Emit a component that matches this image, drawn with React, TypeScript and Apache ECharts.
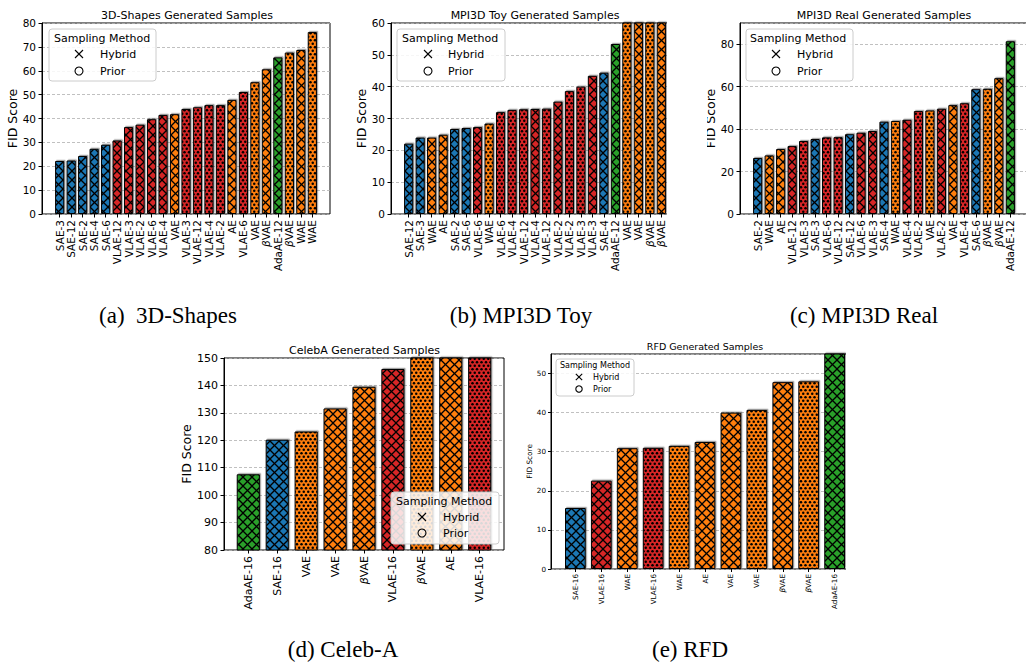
import React, { useEffect, useRef } from 'react';
import * as echarts from 'echarts';

// ---------- data ----------
// H = Hybrid sampling (cross hatch), P = Prior sampling (dot hatch)
const shapesLabels = ['SAE-3', 'SAE-12', 'SAE-2', 'SAE-4', 'SAE-6', 'VLAE-12', 'VLAE-3', 'VLAE-2', 'VLAE-6', 'VLAE-4', 'VAE', 'VLAE-3', 'VLAE-12', 'VLAE-4', 'VLAE-2', 'AE', 'VLAE-6', 'VAE', 'βVAE', 'AdaAE-12', 'βVAE', 'WAE', 'WAE'];
const shapesValues = [22.2, 22.4, 24.3, 27.3, 29.0, 30.8, 36.4, 37.4, 39.7, 41.5, 41.8, 44.0, 44.7, 45.6, 45.6, 47.8, 51.1, 55.2, 60.6, 65.6, 67.6, 68.7, 76.2];
const shapesMethods = ['H', 'H', 'H', 'H', 'H', 'H', 'H', 'H', 'H', 'H', 'H', 'P', 'P', 'P', 'P', 'H', 'P', 'P', 'H', 'H', 'P', 'H', 'P'];

const toyLabels = ['SAE-12', 'SAE-3', 'WAE', 'AE', 'SAE-2', 'SAE-6', 'VLAE-6', 'WAE', 'VLAE-6', 'VLAE-4', 'VLAE-12', 'VLAE-4', 'VLAE-12', 'VLAE-2', 'VLAE-2', 'VLAE-3', 'VLAE-3', 'SAE-4', 'AdaAE-12', 'VAE', 'VAE', 'βVAE', 'βVAE'];
const toyValues = [22.1, 24.0, 24.0, 24.9, 26.7, 27.0, 27.3, 28.4, 32.0, 32.7, 32.9, 33.0, 33.1, 35.3, 38.6, 40.0, 43.4, 44.4, 53.4, 66, 70, 75, 80];
const toyMethods = ['H', 'H', 'H', 'H', 'H', 'H', 'H', 'P', 'P', 'P', 'P', 'H', 'P', 'H', 'P', 'P', 'H', 'H', 'H', 'P', 'H', 'P', 'H'];

const realLabels = ['SAE-2', 'WAE', 'AE', 'VLAE-12', 'VLAE-3', 'SAE-3', 'VLAE-6', 'VLAE-12', 'SAE-12', 'VLAE-6', 'VLAE-3', 'SAE-4', 'WAE', 'VLAE-4', 'VLAE-2', 'VAE', 'VLAE-2', 'VAE', 'VLAE-4', 'SAE-6', 'βVAE', 'βVAE', 'AdaAE-12'];
const realValues = [26.4, 27.6, 30.6, 32.0, 34.4, 35.3, 36.1, 36.2, 37.6, 38.3, 39.1, 43.5, 43.8, 44.4, 48.5, 48.8, 49.6, 51.3, 52.2, 58.8, 59.0, 64.0, 81.4];
const realMethods = ['H', 'H', 'H', 'H', 'P', 'H', 'P', 'P', 'H', 'H', 'H', 'H', 'P', 'H', 'P', 'P', 'H', 'H', 'P', 'H', 'P', 'H', 'H'];

const celebLabels = ['AdaAE-16', 'SAE-16', 'VAE', 'VAE', 'βVAE', 'VLAE-16', 'βVAE', 'AE', 'VLAE-16'];
const celebValues = [107.6, 120.2, 123.2, 131.6, 139.5, 146.0, 158, 165, 172];
const celebMethods = ['H', 'H', 'P', 'H', 'H', 'H', 'P', 'H', 'P'];

const rfdLabels = ['SAE-16', 'VLAE-16', 'WAE', 'VLAE-16', 'WAE', 'AE', 'VAE', 'VAE', 'βVAE', 'βVAE', 'AdaAE-16'];
const rfdValues = [15.6, 22.6, 30.9, 31.0, 31.5, 32.5, 40.0, 40.7, 47.8, 48.0, 60];
const rfdMethods = ['H', 'H', 'H', 'P', 'P', 'H', 'H', 'P', 'H', 'P', 'H'];

const BLUE = '#1f77b4';
const ORANGE = '#ff7f0e';
const GREEN = '#2ca02c';
const RED = '#d62728';
const FONT = 'DejaVu Sans';
const SERIF = 'Liberation Serif';

function familyColor(label: string): string {
  if (label.startsWith('SAE')) return BLUE;
  if (label.startsWith('VLAE')) return RED;
  if (label.startsWith('AdaAE')) return GREEN;
  return ORANGE;
}

const patternCache: Record<string, any> = {};
function hatchPattern(color: string, method: string) {
  const key = color + method;
  if (patternCache[key]) return patternCache[key];
  const c = document.createElement('canvas');
  const g = c.getContext('2d')!;
  let res: any;
  if (method === 'H') {
    const T = 9;
    c.width = T; c.height = T;
    g.fillStyle = color; g.fillRect(0, 0, T, T);
    g.strokeStyle = '#000'; g.lineWidth = 1.3;
    for (const dx of [-T, 0, T]) {
      g.beginPath(); g.moveTo(dx, 0); g.lineTo(dx + T, T); g.stroke();
      g.beginPath(); g.moveTo(dx, T); g.lineTo(dx + T, 0); g.stroke();
    }
    res = { image: c.toDataURL(), repeat: 'repeat', imageWidth: T, imageHeight: T };
  } else {
    const W = 9, H = 7;
    c.width = W; c.height = H;
    g.fillStyle = color; g.fillRect(0, 0, W, H);
    g.fillStyle = '#000';
    const dots = [[2.25, 1.75], [6.75, 1.75], [0, 5.25], [4.5, 5.25], [9, 5.25]];
    for (const [x, y] of dots) {
      g.beginPath(); g.arc(x, y, 1.25, 0, Math.PI * 2); g.fill();
    }
    res = { image: c.toDataURL(), repeat: 'repeat', imageWidth: W, imageHeight: H };
  }
  patternCache[key] = res;
  return res;
}

type Panel = {
  labels: string[]; values: number[]; methods: string[];
  left: number; top: number; width: number; height: number;
  min: number; max: number; interval: number; showMax: boolean;
  tick: number; nameSize: number; nameGap: number; margin: number; tickLen: number;
};

const panels: Panel[] = [
  { labels: shapesLabels, values: shapesValues, methods: shapesMethods, left: 42, top: 23, width: 288, height: 191, min: 0, max: 80, interval: 10, showMax: true, tick: 10.5, nameSize: 12.5, nameGap: 23, margin: 6, tickLen: 3.5 },
  { labels: toyLabels, values: toyValues, methods: toyMethods, left: 391, top: 23, width: 288, height: 191, min: 0, max: 60, interval: 10, showMax: true, tick: 10.5, nameSize: 12.5, nameGap: 23, margin: 6, tickLen: 3.5 },
  { labels: realLabels, values: realValues, methods: realMethods, left: 740, top: 23, width: 288, height: 191, min: 0, max: 90, interval: 20, showMax: false, tick: 10.5, nameSize: 12.5, nameGap: 23, margin: 6, tickLen: 3.5 },
  { labels: celebLabels, values: celebValues, methods: celebMethods, left: 224, top: 358, width: 280, height: 192, min: 80, max: 150, interval: 10, showMax: true, tick: 11, nameSize: 12.5, nameGap: 30, margin: 6, tickLen: 3.5 },
  { labels: rfdLabels, values: rfdValues, methods: rfdMethods, left: 551, top: 354, width: 308, height: 215, min: 0, max: 55, interval: 10, showMax: false, tick: 7.2, nameSize: 7.3, nameGap: 17, margin: 5, tickLen: 3 },
];

const legends = [
  { x: 49, y: 29, w: 107, h: 52, tx: 54, ty: 38, mx: 79, lx: 100, y1: 54, y2: 71, fs: 11, ms: 4 },
  { x: 397, y: 29, w: 108, h: 52, tx: 402, ty: 38, mx: 428, lx: 448, y1: 54, y2: 71, fs: 11, ms: 4 },
  { x: 746, y: 29, w: 107, h: 52, tx: 750, ty: 38, mx: 776, lx: 797, y1: 54, y2: 71, fs: 11, ms: 4 },
  { x: 391, y: 492, w: 108, h: 52, tx: 396, ty: 501, mx: 422, lx: 443, y1: 517, y2: 533, fs: 11, ms: 4 },
  { x: 556, y: 359, w: 78, h: 37, tx: 560, ty: 365, mx: 579, lx: 593, y1: 377, y2: 389, fs: 8, ms: 3.2 },
];

const titles = [
  { text: '3D-Shapes Generated Samples', x: 187, y: 15, fs: 11 },
  { text: 'MPI3D Toy Generated Samples', x: 535, y: 15, fs: 11 },
  { text: 'MPI3D Real Generated Samples', x: 884, y: 15, fs: 11 },
  { text: 'CelebA Generated Samples', x: 364.5, y: 350, fs: 11 },
  { text: 'RFD Generated Samples', x: 705, y: 346, fs: 9.5 },
];

const captions = [
  { text: '(a)  3D-Shapes', x: 168, y: 315 },
  { text: '(b) MPI3D Toy', x: 521, y: 315 },
  { text: '(c) MPI3D Real', x: 864, y: 315 },
  { text: '(d) Celeb-A', x: 343, y: 649 },
  { text: '(e) RFD', x: 690, y: 649 },
];

function buildOption() {
  const grid: any[] = [];
  const xAxis: any[] = [];
  const yAxis: any[] = [];
  const series: any[] = [];
  panels.forEach((p, i) => {
    const n = p.labels.length;
    const U = (n - 0.2) * 1.1;
    const ppu = p.width / U;
    const off = (0.05 * (n - 0.2) - 0.1) * ppu;
    grid.push({ left: p.left, top: p.top, width: p.width, height: p.height, show: true, borderColor: '#000', borderWidth: 1, backgroundColor: 'transparent', containLabel: false, outerBoundsMode: 'none' });
    grid.push({ left: p.left + off, top: p.top, width: n * ppu, height: p.height, containLabel: false, outerBoundsMode: 'none' });
    xAxis.push({ type: 'value', gridIndex: 2 * i, min: 0, max: 1, show: false });
    xAxis.push({
      type: 'category', gridIndex: 2 * i + 1, data: p.labels, boundaryGap: true,
      axisLine: { show: false },
      axisTick: { show: true, alignWithLabel: true, interval: 0, length: p.tickLen, lineStyle: { color: '#000', width: 1 } },
      axisLabel: {
        rotate: 90, interval: 0, margin: p.margin, fontSize: p.tick, color: '#000', fontFamily: FONT,
        formatter: (v: string) => (v.startsWith('β') ? '{b|β}' + v.slice(1) : v),
        rich: { b: { fontStyle: 'italic', fontSize: p.tick, fontFamily: FONT, color: '#000' } },
      },
      splitLine: { show: false },
    });
    yAxis.push({
      type: 'value', gridIndex: 2 * i, min: p.min, max: p.max, interval: p.interval,
      axisLine: { show: true, lineStyle: { color: '#000', width: 1 } },
      axisTick: { show: true, length: p.tickLen, lineStyle: { color: '#000', width: 1 } },
      axisLabel: { fontSize: p.tick, color: '#000', fontFamily: FONT, margin: p.margin, showMaxLabel: p.showMax },
      splitLine: { show: true, lineStyle: { type: [3, 2], color: '#b0b0b0', width: 0.8 } },
      name: 'FID Score', nameLocation: 'middle', nameGap: p.nameGap,
      nameTextStyle: { fontSize: p.nameSize, color: '#000', fontFamily: FONT },
    });
    yAxis.push({ type: 'value', gridIndex: 2 * i + 1, min: p.min, max: p.max, show: false });
    series.push({
      type: 'bar', xAxisIndex: 2 * i + 1, yAxisIndex: 2 * i + 1, barWidth: '80%', clip: true, silent: true,
      itemStyle: { borderColor: '#000', borderWidth: 1, shadowColor: 'rgba(0,0,0,0.35)', shadowOffsetX: 1.2, shadowOffsetY: -1.2, shadowBlur: 0 },
      data: p.values.map((v, j) => ({ value: v, itemStyle: { color: hatchPattern(familyColor(p.labels[j]), p.methods[j]) } })),
    });
  });

  const graphic: any[] = [];
  // crop masks (the source figure panels are trimmed at these edges)
  graphic.push({ type: 'rect', z: 200, shape: { x: 667, y: 0, width: 40, height: 232 }, style: { fill: '#fff' } });
  graphic.push({ type: 'rect', z: 200, shape: { x: 846, y: 335, width: 40, height: 250 }, style: { fill: '#fff' } });

  titles.forEach((t) => {
    graphic.push({ type: 'text', z: 150, x: t.x, y: t.y, style: { text: t.text, fontSize: t.fs, fontFamily: FONT, fill: '#000', textAlign: 'center', textVerticalAlign: 'middle' } });
  });
  legends.forEach((l) => {
    graphic.push({ type: 'rect', z: 150, shape: { x: l.x, y: l.y, width: l.w, height: l.h, r: 3 }, style: { fill: 'rgba(255,255,255,0.85)', stroke: '#cccccc', lineWidth: 1 } });
    graphic.push({ type: 'text', z: 151, x: l.tx, y: l.ty, style: { text: 'Sampling Method', fontSize: l.fs, fontFamily: FONT, fill: '#000', textVerticalAlign: 'middle' } });
    graphic.push({ type: 'line', z: 151, shape: { x1: l.mx - l.ms, y1: l.y1 - l.ms, x2: l.mx + l.ms, y2: l.y1 + l.ms }, style: { stroke: '#000', lineWidth: 1.1 } });
    graphic.push({ type: 'line', z: 151, shape: { x1: l.mx - l.ms, y1: l.y1 + l.ms, x2: l.mx + l.ms, y2: l.y1 - l.ms }, style: { stroke: '#000', lineWidth: 1.1 } });
    graphic.push({ type: 'circle', z: 151, shape: { cx: l.mx, cy: l.y2, r: l.ms }, style: { stroke: '#000', fill: 'none', lineWidth: 1.1 } });
    graphic.push({ type: 'text', z: 151, x: l.lx, y: l.y1, style: { text: 'Hybrid', fontSize: l.fs, fontFamily: FONT, fill: '#000', textVerticalAlign: 'middle' } });
    graphic.push({ type: 'text', z: 151, x: l.lx, y: l.y2, style: { text: 'Prior', fontSize: l.fs, fontFamily: FONT, fill: '#000', textVerticalAlign: 'middle' } });
  });
  captions.forEach((c) => {
    graphic.push({ type: 'text', z: 150, x: c.x, y: c.y, style: { text: c.text, fontSize: 23, fontFamily: SERIF, fill: '#000', textAlign: 'center', textVerticalAlign: 'middle' } });
  });

  return {
    animation: false,
    backgroundColor: '#fff',
    grid, xAxis, yAxis, series, graphic,
  };
}

export default function App() {
  const ref = useRef<HTMLDivElement>(null);
  useEffect(() => {
    if (!ref.current) return;
    const chart = echarts.init(ref.current, undefined, { renderer: 'svg' });
    chart.setOption(buildOption() as any);
    return () => chart.dispose();
  }, []);
  return <div ref={ref} style={{ position: 'absolute', left: 0, top: 0, width: 1026, height: 662 }} />;
}
